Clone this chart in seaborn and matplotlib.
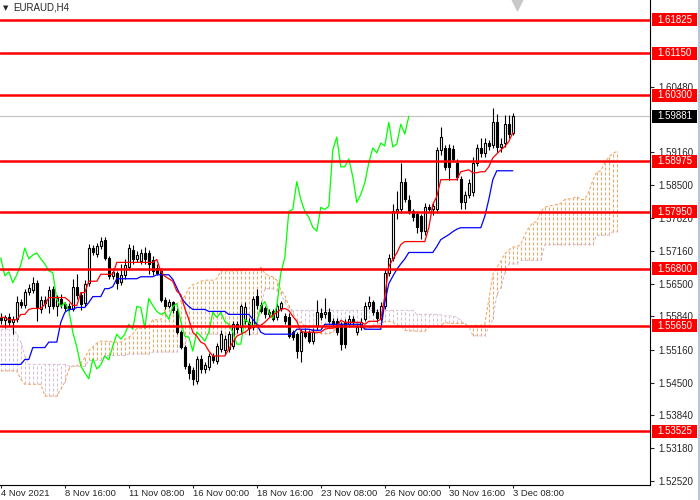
import numpy as np
import pandas as pd
import matplotlib
matplotlib.use("Agg")
import matplotlib.pyplot as plt
import matplotlib.transforms as mtransforms
from matplotlib.patches import Rectangle
from matplotlib.lines import Line2D
import seaborn as sns

# EURAUD H4, one value per bar, 4 Nov 2021 00:00 .. 3 Dec 2021 08:00
opens = [
    1.5580, 1.5576, 1.5583, 1.5572, 1.5578, 1.5614, 1.5606, 1.5634, 1.5638, 1.5652,
    1.5598, 1.5618, 1.5604, 1.5640, 1.5604, 1.5620, 1.5608, 1.5604, 1.5598, 1.5644,
    1.5628, 1.5610, 1.5652, 1.5722, 1.5710, 1.5726, 1.5738, 1.5702, 1.5666, 1.5672,
    1.5654, 1.5668, 1.5684, 1.5718, 1.5700, 1.5696, 1.5712, 1.5712, 1.5698, 1.5682,
    1.5676, 1.5618, 1.5604, 1.5612, 1.5594, 1.5552, 1.5522, 1.5484, 1.5476, 1.5454,
    1.5498, 1.5478, 1.5482, 1.5504, 1.5494, 1.5518, 1.5516, 1.5518, 1.5524, 1.5568,
    1.5562, 1.5574, 1.5572, 1.5562, 1.5626, 1.5606, 1.5600, 1.5588, 1.5594, 1.5582,
    1.5600, 1.5584, 1.5582, 1.5552, 1.5548, 1.5514, 1.5552, 1.5552, 1.5534, 1.5564,
    1.5590, 1.5588, 1.5592, 1.5574, 1.5574, 1.5568, 1.5572, 1.5568, 1.5578, 1.5552,
    1.5562, 1.5578, 1.5604, 1.5614, 1.5592, 1.5580, 1.5604, 1.5672, 1.5702, 1.5796,
    1.5800, 1.5856, 1.5818, 1.5796, 1.5790, 1.5786, 1.5756, 1.5804, 1.5800, 1.5800,
    1.5920, 1.5924, 1.5924, 1.5922, 1.5894, 1.5862, 1.5814, 1.5830, 1.5836, 1.5894,
    1.5924, 1.5914, 1.5934, 1.5930, 1.5976, 1.5926, 1.5934, 1.5972, 1.5954]
highs = [
    1.5590, 1.5586, 1.5590, 1.5585, 1.5625, 1.5620, 1.5640, 1.5650, 1.5664, 1.5658,
    1.5625, 1.5625, 1.5645, 1.5646, 1.5628, 1.5630, 1.5612, 1.5610, 1.5660, 1.5670,
    1.5634, 1.5658, 1.5730, 1.5728, 1.5732, 1.5745, 1.5745, 1.5706, 1.5682, 1.5676,
    1.5690, 1.5700, 1.5730, 1.5728, 1.5716, 1.5720, 1.5724, 1.5718, 1.5706, 1.5690,
    1.5682, 1.5624, 1.5620, 1.5616, 1.5600, 1.5556, 1.5526, 1.5490, 1.5482, 1.5504,
    1.5506, 1.5492, 1.5510, 1.5510, 1.5530, 1.5556, 1.5546, 1.5554, 1.5574, 1.5574,
    1.5608, 1.5612, 1.5580, 1.5626, 1.5640, 1.5612, 1.5604, 1.5598, 1.5598, 1.5610,
    1.5616, 1.5590, 1.5590, 1.5556, 1.5552, 1.5558, 1.5560, 1.5556, 1.5560, 1.5618,
    1.5600, 1.5622, 1.5600, 1.5580, 1.5580, 1.5572, 1.5578, 1.5586, 1.5584, 1.5568,
    1.5580, 1.5612, 1.5626, 1.5618, 1.5598, 1.5612, 1.5680, 1.5710, 1.5810, 1.5838,
    1.5894, 1.5864, 1.5830, 1.5800, 1.5796, 1.5790, 1.5812, 1.5810, 1.5812, 1.5926,
    1.5966, 1.5930, 1.5932, 1.5930, 1.5902, 1.5868, 1.5838, 1.5862, 1.5906, 1.5932,
    1.5944, 1.5944, 1.5940, 1.6004, 1.5992, 1.5944, 1.5990, 1.5990, 1.5994]
lows = [
    1.5568, 1.5560, 1.5565, 1.5548, 1.5572, 1.5600, 1.5600, 1.5628, 1.5632, 1.5574,
    1.5590, 1.5600, 1.5590, 1.5598, 1.5585, 1.5600, 1.5594, 1.5594, 1.5594, 1.5620,
    1.5596, 1.5604, 1.5645, 1.5708, 1.5704, 1.5720, 1.5698, 1.5660, 1.5660, 1.5640,
    1.5648, 1.5660, 1.5678, 1.5690, 1.5694, 1.5690, 1.5690, 1.5670, 1.5668, 1.5668,
    1.5614, 1.5598, 1.5600, 1.5590, 1.5548, 1.5518, 1.5478, 1.5458, 1.5446, 1.5448,
    1.5470, 1.5470, 1.5476, 1.5490, 1.5488, 1.5512, 1.5506, 1.5512, 1.5518, 1.5550,
    1.5552, 1.5568, 1.5546, 1.5556, 1.5598, 1.5590, 1.5580, 1.5582, 1.5574, 1.5576,
    1.5594, 1.5568, 1.5540, 1.5536, 1.5500, 1.5492, 1.5540, 1.5530, 1.5528, 1.5556,
    1.5576, 1.5580, 1.5570, 1.5562, 1.5546, 1.5516, 1.5520, 1.5562, 1.5566, 1.5546,
    1.5556, 1.5574, 1.5598, 1.5586, 1.5572, 1.5574, 1.5598, 1.5666, 1.5696, 1.5780,
    1.5792, 1.5814, 1.5790, 1.5776, 1.5752, 1.5740, 1.5748, 1.5796, 1.5788, 1.5792,
    1.5910, 1.5880, 1.5860, 1.5896, 1.5860, 1.5800, 1.5800, 1.5824, 1.5828, 1.5888,
    1.5906, 1.5906, 1.5920, 1.5924, 1.5916, 1.5916, 1.5926, 1.5944, 1.5950]
closes = [
    1.5576, 1.5583, 1.5572, 1.5578, 1.5614, 1.5606, 1.5634, 1.5642, 1.5652, 1.5602,
    1.5618, 1.5610, 1.5638, 1.5604, 1.5622, 1.5608, 1.5600, 1.5598, 1.5644, 1.5628,
    1.5608, 1.5650, 1.5722, 1.5714, 1.5726, 1.5736, 1.5702, 1.5666, 1.5674, 1.5652,
    1.5668, 1.5688, 1.5722, 1.5700, 1.5708, 1.5712, 1.5700, 1.5690, 1.5676, 1.5672,
    1.5618, 1.5604, 1.5612, 1.5596, 1.5552, 1.5522, 1.5484, 1.5470, 1.5458, 1.5498,
    1.5478, 1.5486, 1.5504, 1.5496, 1.5524, 1.5548, 1.5538, 1.5548, 1.5568, 1.5558,
    1.5604, 1.5602, 1.5560, 1.5620, 1.5606, 1.5594, 1.5588, 1.5592, 1.5578, 1.5604,
    1.5610, 1.5574, 1.5544, 1.5542, 1.5514, 1.5552, 1.5544, 1.5534, 1.5552, 1.5592,
    1.5582, 1.5592, 1.5574, 1.5568, 1.5552, 1.5528, 1.5528, 1.5578, 1.5572, 1.5562,
    1.5572, 1.5604, 1.5614, 1.5592, 1.5580, 1.5604, 1.5672, 1.5702, 1.5796, 1.5800,
    1.5856, 1.5820, 1.5796, 1.5784, 1.5764, 1.5756, 1.5804, 1.5800, 1.5806, 1.5920,
    1.5946, 1.5886, 1.5886, 1.5902, 1.5866, 1.5814, 1.5830, 1.5854, 1.5894, 1.5924,
    1.5914, 1.5934, 1.5928, 1.5976, 1.5926, 1.5932, 1.5972, 1.5952, 1.5988]

# Ichimoku lines
tenkan = ([1.5582] * 2 + [1.5577] * 3 + [1.5588] * 2 + [1.5598] + [1.5600] * 3 + [1.5608]
          + [1.5622] * 5 + [1.5616] + [1.5606] * 2 + [1.5632] * 2 + [1.5655] * 3
          + [1.5669] * 4 + [1.5693] * 10 + [1.5699]
          + [1.5675, 1.5665, 1.5660, 1.5655, 1.5635, 1.5628, 1.5600, 1.5578, 1.5552,
             1.5544, 1.5532, 1.5528, 1.5514]
          + [1.5504] * 4
          + [1.5518, 1.5532, 1.5544, 1.5548, 1.5552, 1.5558, 1.5562, 1.5566, 1.5566,
             1.5572, 1.5580, 1.5586, 1.5592, 1.5598, 1.5600, 1.5596, 1.5584, 1.5574, 1.5554]
          + [1.5552] * 5 + [1.5558] + [1.5560] * 2 + [1.5562, 1.5576] + [1.5572] * 5
          + [1.5568] + [1.5574] * 3
          + [1.5578, 1.5624, 1.5685, 1.5699, 1.5712, 1.5729] + [1.5735] * 6
          + [1.5763, 1.5810, 1.5826] + [1.5860] * 5
          + [1.5876, 1.5878, 1.5880, 1.5874, 1.5874, 1.5876, 1.5876, 1.5886, 1.5904,
             1.5912, 1.5920, 1.5927, 1.5937, 1.5955])
kijun = ([1.5487] * 6 + [1.5497] * 2 + [1.5521] * 4 + [1.5532] * 3 + [1.5572, 1.5592]
         + [1.5598] * 2 + [1.5602] * 3 + [1.5612] + [1.5624] * 3 + [1.5640] * 2 + [1.5644]
         + [1.5660] * 6 + [1.5664] * 4 + [1.5668] * 4
         + [1.5659, 1.5642, 1.5624, 1.5612, 1.5604] + [1.5598] * 4 + [1.5594] * 5
         + [1.5588] * 6 + [1.5578, 1.5568, 1.5552] + [1.5548] * 8 + [1.5558] * 4
         + [1.5556] * 3 + [1.5568] * 10 + [1.5558] * 5
         + [1.5612, 1.5650, 1.5665, 1.5679, 1.5690, 1.5700] + [1.5713] * 7
         + [1.5725, 1.5739, 1.5744, 1.5749, 1.5755, 1.5760] + [1.5763] * 6
         + [1.5786, 1.5820, 1.5860] + [1.5878] * 5)
span_a = ([1.5474] * 5 + [1.5457] + [1.5447] * 5 + [1.5423] * 4
          + [1.5437, 1.5451, 1.5477, 1.5484, 1.5484, 1.5490, 1.5500, 1.5515, 1.5522, 1.5530, 1.5534]
          + [1.5534, 1.5534, 1.5532, 1.5532, 1.5532]
          + [1.5538, 1.5542, 1.5548, 1.5560, 1.5560, 1.5560, 1.5564, 1.5577, 1.5577, 1.5577]
          + [1.5597, 1.5607, 1.5607, 1.5610, 1.5615, 1.5625, 1.5640, 1.5648, 1.5650, 1.5655]
          + [1.5657, 1.5657, 1.5657, 1.5660, 1.5676, 1.5676, 1.5676, 1.5676, 1.5676, 1.5676]
          + [1.5678, 1.5678, 1.5678, 1.5678, 1.5683, 1.5671, 1.5666, 1.5664, 1.5657, 1.5638]
          + [1.5626, 1.5606, 1.5591, 1.5575, 1.5571, 1.5565, 1.5563, 1.5554, 1.5549, 1.5549]
          + [1.5549, 1.5549, 1.5553, 1.5560, 1.5566, 1.5568, 1.5570, 1.5573, 1.5570, 1.5567]
          + [1.5559, 1.5560, 1.5564, 1.5567, 1.5570, 1.5573, 1.5574, 1.5572, 1.5566, 1.5566]
          + [1.5556, 1.5555, 1.5555, 1.5554, 1.5554, 1.5554, 1.5563, 1.5564, 1.5564, 1.5565]
          + [1.5572, 1.5570, 1.5570, 1.5570, 1.5570, 1.5570, 1.5563, 1.5566, 1.5566, 1.5566]
          + [1.5568, 1.5618, 1.5668, 1.5682, 1.5696, 1.5710, 1.5718, 1.5724, 1.5724, 1.5730]
          + [1.5749, 1.5763, 1.5773, 1.5775, 1.5796, 1.5804, 1.5807, 1.5808, 1.5810, 1.5812]
          + [1.5820, 1.5821, 1.5822, 1.5826, 1.5820, 1.5820, 1.5836, 1.5858, 1.5876, 1.5878]
          + [1.5894, 1.5906, 1.5913, 1.5917])
span_b = ([1.5558] * 4 + [1.5548, 1.5532, 1.5504] + [1.5487] * 10 + [1.5484]
          + [1.5483] * 4 + [1.5495] * 4 + [1.5505] * 6 + [1.5508] * 6 + [1.5512] * 7
          + [1.5528] * 2 + [1.5548] * 18 + [1.5600] + [1.5640] * 3
          + [1.5636, 1.5630, 1.5612, 1.5600] + [1.5596] * 31 + [1.5588] * 6
          + [1.5587] + [1.5585] * 3 + [1.5582, 1.5576, 1.5568, 1.5564] + [1.5545] * 4
          + [1.5563, 1.5578, 1.5628, 1.5642, 1.5671] + [1.5690] * 3
          + [1.5697] * 6 + [1.5729] * 13 + [1.5748] * 4 + [1.5755] * 2)

levels = [1.61825, 1.61150, 1.60300, 1.58975, 1.57950, 1.56800, 1.55650, 1.53525]
last_price = 1.59881
price_ticks = [1.60480, 1.59160, 1.58500, 1.57820, 1.57160, 1.56500,
               1.55840, 1.55160, 1.54500, 1.53840, 1.53180, 1.52520]
date_ticks = [0, 16, 32, 48, 64, 80, 96, 112, 128]
date_labels = ["4 Nov 2021", "8 Nov 16:00", "11 Nov 08:00", "16 Nov 00:00", "18 Nov 16:00",
               "23 Nov 08:00", "26 Nov 00:00", "30 Nov 16:00", "3 Dec 08:00"]

sns.set_style("white")
plt.rcParams["font.family"] = ["Liberation Sans", "DejaVu Sans"]

o, h, l, c = (np.array(v) for v in (opens, highs, lows, closes))
bars = np.arange(len(c))
df = pd.DataFrame({"bar": bars, "tenkan": tenkan, "kijun": kijun})
chikou = pd.DataFrame({"bar": bars[:len(c) - 26], "price": closes[26:]})
cloud = pd.DataFrame({"bar": np.arange(len(span_a)), "a": span_a, "b": span_b})

fig = plt.figure(figsize=(7, 5), dpi=100)
ax = fig.add_axes([0, 15 / 500, 650 / 700, 485 / 500])

# cloud: one dashed vertical stroke per bar between the spans, plus dashed borders
dash = (0, (2.9, 1.9))
sandy, thistle = "#F4A460", "#D8BFD8"
cx = cloud["bar"].to_numpy()
ca = cloud["a"].to_numpy()
cb = cloud["b"].to_numpy()
bull = ca >= cb
for mask, colour in ((bull, sandy), (~bull, thistle)):
    xs = np.column_stack([cx[mask], cx[mask], np.full(mask.sum(), np.nan)]).ravel()
    ys = np.column_stack([np.minimum(ca, cb)[mask], np.maximum(ca, cb)[mask],
                          np.full(mask.sum(), np.nan)]).ravel()
    ax.plot(xs, ys, color=colour, linewidth=0.75, linestyle=dash, zorder=1)
ax.plot(cx, ca, color=sandy, linewidth=0.75, linestyle=dash, zorder=1)
ax.plot(cx, cb, color=thistle, linewidth=0.75, linestyle=dash, zorder=1)

ax.axhline(last_price, color="#C0C0C0", linewidth=0.8, zorder=2)

# candles
ax.vlines(bars, l, h, color="black", linewidth=0.8, zorder=3)
body_low = np.minimum(o, c)
body_h = np.maximum(np.abs(c - o), 0.00004)
rise = c >= o
ax.bar(bars[rise], body_h[rise], bottom=body_low[rise], width=0.62, color="white",
       edgecolor="black", linewidth=0.8, zorder=4)
ax.bar(bars[~rise], body_h[~rise], bottom=body_low[~rise], width=0.62, color="black",
       edgecolor="black", linewidth=0.8, zorder=4)

sns.lineplot(data=chikou, x="bar", y="price", ax=ax, color="#00FF00", linewidth=0.9, zorder=5)
sns.lineplot(data=df, x="bar", y="kijun", ax=ax, color="#0000FF", linewidth=0.9, zorder=5)
sns.lineplot(data=df, x="bar", y="tenkan", ax=ax, color="#FF0000", linewidth=0.9, zorder=5)

for lvl in levels:
    ax.axhline(lvl, color="#FF0000", linewidth=1.8, zorder=6)

ax.set_xlim(-0.2, 162.3)
ax.set_ylim(1.52435, 1.62228)
ax.set_xlabel("")
ax.set_ylabel("")

ax.yaxis.tick_right()
ax.set_yticks(price_ticks)
ax.set_yticklabels([f"{p:.5f}" for p in price_ticks])
ax.tick_params(axis="y", direction="out", length=3, width=0.8, pad=3, labelsize=7,
               right=True, left=False)
ax.set_xticks(date_ticks)
ax.set_xticklabels(date_labels)
for lab in ax.get_xticklabels():
    lab.set_horizontalalignment("left")
ax.tick_params(axis="x", direction="out", length=2.5, width=0.8, pad=0.5, labelsize=6.8,
               bottom=True)

for side in ("top", "left"):
    ax.spines[side].set_visible(False)
for side in ("right", "bottom"):
    ax.spines[side].set_color("black")
    ax.spines[side].set_linewidth(0.8)

# price tags on the right scale
trans = mtransforms.blended_transform_factory(ax.transAxes, ax.transData)
tag_h = 0.00262
for lvl, face in [(v, "#FF0000") for v in levels] + [(last_price, "black")]:
    ax.add_patch(Rectangle((1.003, lvl - tag_h / 2), 0.069, tag_h, transform=trans,
                           facecolor=face, edgecolor="none", clip_on=False, zorder=10))
    ax.text(1.0375, lvl, f"{lvl:.5f}", transform=trans, ha="center", va="center",
            fontsize=7, color="white", zorder=11, clip_on=False)

# chart shift marker and symbol caption
top = mtransforms.blended_transform_factory(ax.transData, ax.transAxes)
ax.scatter([129], [0.99], marker="v", s=55, color="#C8C8C8", transform=top,
           clip_on=False, zorder=7)
fig.text(3 / 700, 1 - 8 / 500, "\u25bc", fontsize=5, va="center", family="DejaVu Sans")
fig.text(13 / 700, 1 - 8 / 500, "EURAUD,H4", fontsize=7, va="center")
fig.add_artist(Line2D([698.5 / 700] * 2, [0, 1], color="#B8C8DC", linewidth=1.5))

fig.savefig("out.png", dpi=100)
